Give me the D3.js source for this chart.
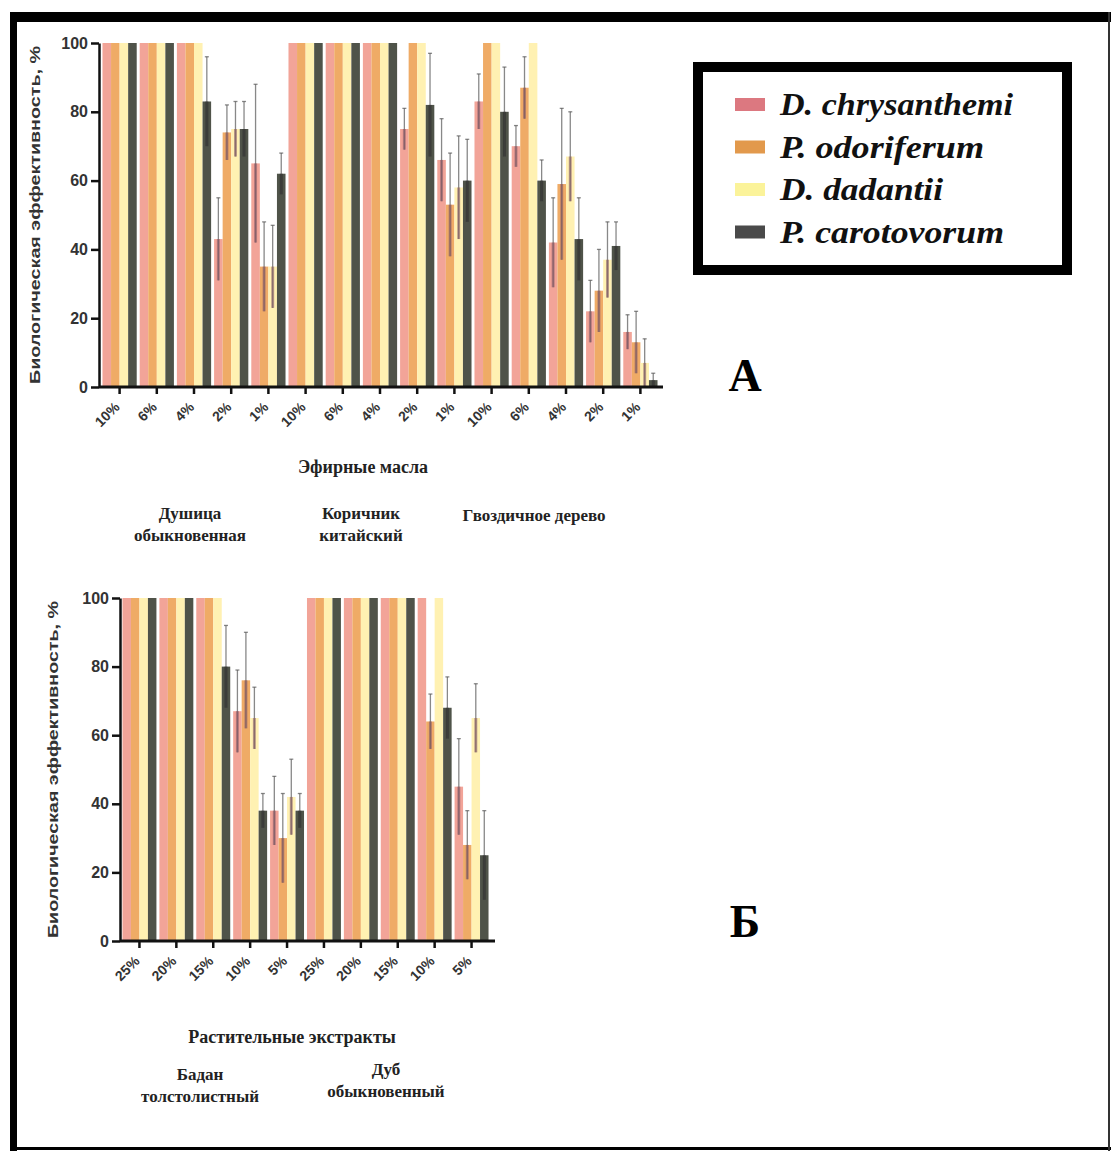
<!DOCTYPE html>
<html>
<head>
<meta charset="utf-8">
<script src="https://cdn.jsdelivr.net/npm/d3@7"></script>
<style>
  body { margin: 0; background: #fff; }
  svg { display: block; }
</style>
</head>
<body>
<div id="chart"></div>
<script>
// Series (legend order)
const seriesNames = ["D. chrysanthemi", "P. odoriferum", "D. dadantii", "P. carotovorum"];
const seriesColors = ["#f2a498", "#efab66", "#fff1b2", "#4f5349"];
const legendColors = ["#dc7880", "#e2994c", "#fbf39a", "#4a4a4a"];

// Panel A - essential oils
const oilDoses = ["10%", "6%", "4%", "2%", "1%"];
const oilNames = [["Душица", "обыкновенная"], ["Коричник", "китайский"], ["Гвоздичное дерево"]];
const oilChrys    = [100, 100, 100, 43, 65, 100, 100, 100, 75, 66, 83, 70, 42, 22, 16];
const oilOdor     = [100, 100, 100, 74, 35, 100, 100, 100, 100, 53, 100, 87, 59, 28, 13];
const oilDad      = [100, 100, 100, 75, 35, 100, 100, 100, 100, 58, 100, 100, 67, 37, 7];
const oilCaro     = [100, 100, 83, 75, 62, 100, 100, 100, 82, 60, 80, 60, 43, 41, 2];
const oilChrysErr = [0, 0, 0, 12, 23, 0, 0, 0, 6, 12, 8, 6, 13, 9, 5];
const oilOdorErr  = [0, 0, 0, 8, 13, 0, 0, 0, 0, 15, 0, 9, 22, 12, 9];
const oilDadErr   = [0, 0, 0, 8, 12, 0, 0, 0, 0, 15, 0, 0, 13, 11, 7];
const oilCaroErr  = [0, 0, 13, 8, 6, 0, 0, 0, 15, 12, 13, 6, 12, 7, 2];

// Panel Б - plant extracts
const extDoses = ["25%", "20%", "15%", "10%", "5%"];
const extNames = [["Бадан", "толстолистный"], ["Дуб", "обыкновенный"]];
const extChrys    = [100, 100, 100, 67, 38, 100, 100, 100, 100, 45];
const extOdor     = [100, 100, 100, 76, 30, 100, 100, 100, 64, 28];
const extDad      = [100, 100, 100, 65, 42, 100, 100, 100, 100, 65];
const extCaro     = [100, 100, 80, 38, 38, 100, 100, 100, 68, 25];
const extChrysErr = [0, 0, 0, 12, 10, 0, 0, 0, 0, 14];
const extOdorErr  = [0, 0, 0, 14, 13, 0, 0, 0, 8, 10];
const extDadErr   = [0, 0, 0, 9, 11, 0, 0, 0, 0, 10];
const extCaroErr  = [0, 0, 12, 5, 5, 0, 0, 0, 9, 13];

const yTicks = [0, 20, 40, 60, 80, 100];
const yLabel = "Биологическая эффективность, %";

const W = 1111, H = 1151;
const svg = d3.select("#chart").append("svg")
  .attr("width", W).attr("height", H);

svg.append("rect").attr("width", W).attr("height", H).attr("fill", "#fff");

// outer frame
svg.append("rect").attr("x", 10).attr("y", 12).attr("width", W - 10).attr("height", 10).attr("fill", "#000");
svg.append("rect").attr("x", 10).attr("y", 12).attr("width", 7).attr("height", H - 12).attr("fill", "#000");
svg.append("rect").attr("x", 10).attr("y", H - 4).attr("width", W - 10).attr("height", 3).attr("fill", "#000");
svg.append("rect").attr("x", W - 3).attr("y", 12).attr("width", 2).attr("height", H - 12).attr("fill", "#333");

function drawPanel(p) {
  const g = svg.append("g");
  const n = p.values[0].length;

  const x = d3.scaleBand()
    .domain(d3.range(n))
    .range([p.x0, p.x1])
    .paddingInner(0.08)
    .paddingOuter(0.04);
  const xs = d3.scaleBand()
    .domain(d3.range(4))
    .range([0, x.bandwidth()]);
  const y = d3.scaleLinear().domain([0, 100]).range([p.yBottom, p.yTop]);

  // bars
  const groups = g.selectAll(".grp")
    .data(d3.range(n))
    .enter().append("g")
    .attr("transform", i => "translate(" + x(i) + ",0)");

  groups.selectAll("rect")
    .data(i => d3.range(4).map(s => ({ s: s, v: p.values[s][i], e: p.errors[s][i] })))
    .enter().append("rect")
    .attr("x", d => xs(d.s))
    .attr("width", xs.bandwidth())
    .attr("y", d => y(d.v))
    .attr("height", d => y(0) - y(d.v))
    .attr("fill", d => seriesColors[d.s]);

  // error bars
  const err = groups.selectAll(".err")
    .data(i => d3.range(4).map(s => ({ s: s, v: p.values[s][i], e: p.errors[s][i] })).filter(d => d.e > 0))
    .enter().append("g")
    .attr("class", "err")
    .attr("transform", d => "translate(" + (xs(d.s) + xs.bandwidth() / 2) + ",0)");
  err.append("line")
    .attr("y1", d => y(d.v + d.e)).attr("y2", d => y(d.v - d.e))
    .attr("stroke", "#555").attr("stroke-opacity", 0.7).attr("stroke-width", 1.3);
  err.append("line")
    .attr("x1", -2).attr("x2", 2)
    .attr("y1", d => y(d.v + d.e)).attr("y2", d => y(d.v + d.e))
    .attr("stroke", "#555").attr("stroke-opacity", 0.7).attr("stroke-width", 1.3);
  err.append("line")
    .attr("y1", d => y(d.v)).attr("y2", d => y(Math.max(0, d.v - d.e)))
    .attr("stroke", d => d.s === 3 ? "#2a2a2a" : "#8a5a6a").attr("stroke-opacity", 0.55).attr("stroke-width", 3);

  // y axis
  const yAxis = g.append("g")
    .attr("transform", "translate(" + p.axisX + ",0)")
    .call(d3.axisLeft(y).tickValues(yTicks).tickSize(8).tickSizeOuter(0));
  yAxis.select(".domain").attr("stroke", "#111").attr("stroke-width", 2.5);
  yAxis.selectAll(".tick line").attr("stroke", "#111").attr("stroke-width", 2.5);
  yAxis.selectAll(".tick text")
    .attr("x", -11)
    .style("font-family", "Liberation Sans, Arial, sans-serif")
    .style("font-weight", "bold")
    .style("font-size", "16px")
    .attr("fill", "#333");

  // x axis
  const xAxis = g.append("g")
    .attr("transform", "translate(0," + p.yBottom + ")")
    .call(d3.axisBottom(x).tickSize(7).tickSizeOuter(0).tickFormat(i => p.doses[i % p.doses.length]));
  xAxis.select(".domain")
    .attr("d", "M" + p.axisX + ",0H" + p.axisEnd)
    .attr("stroke", "#111").attr("stroke-width", 3);
  xAxis.selectAll(".tick line").attr("stroke", "#111").attr("stroke-width", 2.5);
  xAxis.selectAll(".tick text")
    .attr("y", 0).attr("dy", 0)
    .attr("text-anchor", "end")
    .attr("transform", "translate(1,21) rotate(-45)")
    .style("font-family", "Liberation Sans, Arial, sans-serif")
    .style("font-weight", "bold")
    .style("font-size", "14px")
    .attr("fill", "#333");

  // y axis title
  g.append("text")
    .attr("transform", "translate(" + p.labelX + "," + ((p.yTop + p.yBottom) / 2) + ") rotate(-90)")
    .attr("text-anchor", "middle")
    .attr("textLength", p.yBottom - p.yTop - 6)
    .attr("lengthAdjust", "spacingAndGlyphs")
    .style("font-family", "Liberation Sans, Arial, sans-serif")
    .style("font-weight", "bold")
    .style("font-size", "15px")
    .attr("fill", "#333")
    .text(yLabel);

  // x axis title
  g.append("text")
    .attr("x", p.titleX).attr("y", p.titleY)
    .attr("text-anchor", "middle")
    .style("font-family", "Liberation Serif, Times New Roman, serif")
    .style("font-weight", "bold")
    .style("font-size", "18px")
    .attr("fill", "#222")
    .text(p.title);

  // group names
  p.names.forEach((lines, k) => {
    const t = g.append("text")
      .attr("x", p.nameX[k]).attr("y", p.nameY[k])
      .attr("text-anchor", "middle")
      .style("font-family", "Liberation Serif, Times New Roman, serif")
      .style("font-weight", "bold")
      .style("font-size", "17px")
      .attr("fill", "#222");
    lines.forEach((l, j) => {
      t.append("tspan").attr("x", p.nameX[k]).attr("dy", j === 0 ? 0 : 22).text(l);
    });
  });

  // panel letter
  svg.append("text")
    .attr("x", p.letterX).attr("y", p.letterY)
    .attr("text-anchor", "middle")
    .style("font-family", "Liberation Serif, Times New Roman, serif")
    .style("font-weight", "bold")
    .style("font-size", "46px")
    .attr("fill", "#000")
    .text(p.letter);
}

drawPanel({
  values: [oilChrys, oilOdor, oilDad, oilCaro],
  errors: [oilChrysErr, oilOdorErr, oilDadErr, oilCaroErr],
  doses: oilDoses,
  x0: 101, x1: 659, yTop: 43, yBottom: 387, axisX: 99, axisEnd: 663,
  labelX: 40,
  title: "Эфирные масла", titleX: 363, titleY: 473,
  names: oilNames, nameX: [190, 361, 534], nameY: [519, 519, 521],
  letter: "А", letterX: 745, letterY: 391
});

drawPanel({
  values: [extChrys, extOdor, extDad, extCaro],
  errors: [extChrysErr, extOdorErr, extDadErr, extCaroErr],
  doses: extDoses,
  x0: 121, x1: 490, yTop: 598, yBottom: 941, axisX: 120, axisEnd: 495,
  labelX: 58,
  title: "Растительные экстракты", titleX: 292, titleY: 1043,
  names: extNames, nameX: [200, 386], nameY: [1080, 1075],
  letter: "Б", letterX: 745, letterY: 937
});

// legend
const legend = svg.append("g");
legend.append("rect")
  .attr("x", 698).attr("y", 67).attr("width", 369).attr("height", 203)
  .attr("fill", "#fff").attr("stroke", "#000").attr("stroke-width", 10);
const leg = legend.selectAll(".leg")
  .data(seriesNames)
  .enter().append("g")
  .attr("transform", (d, i) => "translate(0," + (104 + i * 42.5) + ")");
leg.append("rect")
  .attr("x", 735).attr("y", -6).attr("width", 30).attr("height", 13)
  .attr("fill", (d, i) => legendColors[i]);
leg.append("text")
  .attr("x", 780).attr("y", 11)
  .style("font-family", "Liberation Serif, Times New Roman, serif")
  .style("font-weight", "bold")
  .style("font-style", "italic")
  .style("font-size", "32px")
  .attr("textLength", (d, i) => [233, 204, 163, 224][i])
  .attr("lengthAdjust", "spacingAndGlyphs")
  .attr("fill", "#111")
  .text(d => d);
</script>
</body>
</html>
